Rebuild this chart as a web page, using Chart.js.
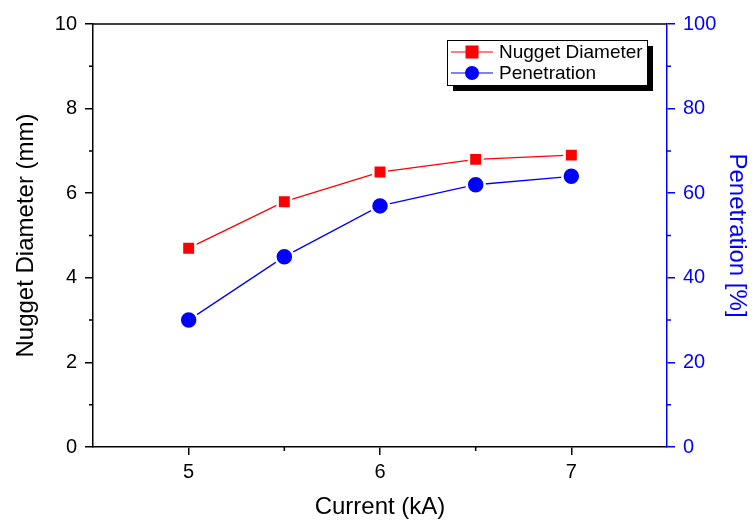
<!DOCTYPE html>
<html>
<head>
<meta charset="utf-8">
<script src="https://cdn.jsdelivr.net/npm/chart.js@4"></script>
<style>
  html, body { margin: 0; padding: 0; background: #fff; }
  #wrap { width: 755px; height: 522px; }
</style>
</head>
<body>
<div id="wrap"><canvas id="chart" width="755" height="522"></canvas></div>
<script>
// chart data
const currents = [5, 5.5, 6, 6.5, 7];
const nuggetDiameter = [4.7, 5.8, 6.5, 6.8, 6.9];
const penetration = [30, 45, 57, 62, 64];
const xTicks = [5, 6, 7];
const xMinor = [5.5, 6.5];
const leftMinor = [1, 3, 5, 7, 9];
const rightMinor = [10, 30, 50, 70, 90];

const FONT = '"Liberation Sans", Arial, sans-serif';

// minor ticks, top frame line and the boxed legend with shadow
const extras = {
  id: 'extras',
  afterDraw(chart) {
    const { ctx, chartArea: a, scales } = chart;
    ctx.save();
    ctx.lineWidth = 1.5;
    // top frame
    ctx.strokeStyle = '#000';
    ctx.beginPath();
    ctx.moveTo(a.left, a.top);
    ctx.lineTo(a.right, a.top);
    ctx.stroke();
    // minor ticks
    ctx.beginPath();
    xMinor.forEach(v => {
      const x = scales.x.getPixelForValue(v);
      ctx.moveTo(x, a.bottom);
      ctx.lineTo(x, a.bottom + 4);
    });
    leftMinor.forEach(v => {
      const y = scales.y.getPixelForValue(v);
      ctx.moveTo(a.left, y);
      ctx.lineTo(a.left - 4, y);
    });
    ctx.stroke();
    ctx.strokeStyle = '#0000ff';
    ctx.beginPath();
    rightMinor.forEach(v => {
      const y = scales.y1.getPixelForValue(v);
      ctx.moveTo(a.right, y);
      ctx.lineTo(a.right + 4, y);
    });
    ctx.stroke();

    // legend
    const lx = 447, ly = 40, lw = 200, lh = 45;
    ctx.fillStyle = '#000';
    ctx.fillRect(lx + 6, ly + 6, lw, lh);
    ctx.fillStyle = '#fff';
    ctx.fillRect(lx, ly, lw, lh);
    ctx.strokeStyle = '#000';
    ctx.lineWidth = 1;
    ctx.strokeRect(lx + 0.5, ly + 0.5, lw, lh);
    const rows = [
      { label: 'Nugget Diameter', color: '#ff0000', style: 'rect' },
      { label: 'Penetration', color: '#0000ff', style: 'circle' }
    ];
    ctx.font = '19px ' + FONT;
    ctx.textBaseline = 'middle';
    rows.forEach((r, i) => {
      const y = ly + 12 + i * 21;
      ctx.strokeStyle = r.color;
      ctx.lineWidth = 1.2;
      ctx.beginPath();
      ctx.moveTo(lx + 4, y);
      ctx.lineTo(lx + 46, y);
      ctx.stroke();
      ctx.fillStyle = r.color;
      if (r.style === 'rect') {
        ctx.fillRect(lx + 18.5, y - 6.5, 13, 13);
      } else {
        ctx.beginPath();
        ctx.arc(lx + 25, y, 7, 0, Math.PI * 2);
        ctx.fill();
      }
      ctx.fillStyle = '#000';
      ctx.fillText(r.label, lx + 52, y + 1);
    });
    ctx.restore();
  }
};

new Chart(document.getElementById('chart'), {
  type: 'line',
  data: {
    datasets: [
      {
        label: 'Nugget Diameter',
        data: currents.map((c, i) => ({ x: c, y: nuggetDiameter[i] })),
        yAxisID: 'y',
        borderColor: '#ff0000',
        backgroundColor: '#ff0000',
        borderWidth: 1.3,
        pointStyle: 'rect',
        pointRadius: 9.5,
        pointBorderWidth: 2.5,
        pointBorderColor: '#ffffff',
        tension: 0
      },
      {
        label: 'Penetration',
        data: currents.map((c, i) => ({ x: c, y: penetration[i] })),
        yAxisID: 'y1',
        borderColor: '#0000ff',
        backgroundColor: '#0000ff',
        borderWidth: 1.3,
        pointStyle: 'circle',
        pointRadius: 9,
        pointBorderWidth: 2.5,
        pointBorderColor: '#ffffff',
        tension: 0
      }
    ]
  },
  options: {
    responsive: false,
    animation: false,
    layout: { padding: { top: 24, left: 0, right: 0, bottom: 0 } },
    plugins: { legend: { display: false }, tooltip: { enabled: false } },
    scales: {
      x: {
        type: 'linear',
        min: 4.5,
        max: 7.5,
        afterBuildTicks: s => { s.ticks = xTicks.map(v => ({ value: v })); },
        afterFit: s => { s.height = 75; },
        grid: { drawOnChartArea: false, drawTicks: true, tickLength: 8, color: '#000', lineWidth: 1.5 },
        border: { color: '#000', width: 1.5 },
        ticks: { color: '#000', font: { family: FONT, size: 20 }, padding: 5, maxRotation: 0 },
        title: { display: true, text: 'Current (kA)', color: '#000', font: { family: FONT, size: 24 }, padding: { top: 3, bottom: 0 } }
      },
      y: {
        position: 'left',
        min: 0,
        max: 10,
        ticks: { stepSize: 2, color: '#000', font: { family: FONT, size: 20 }, padding: 8 },
        afterFit: s => { s.width = 93; },
        grid: { drawOnChartArea: false, drawTicks: true, tickLength: 8, color: '#000', lineWidth: 1.5 },
        border: { color: '#000', width: 1.5 },
        title: { display: true, text: 'Nugget Diameter (mm)', color: '#000', font: { family: FONT, size: 24 }, padding: { top: 12, bottom: 0 } }
      },
      y1: {
        position: 'right',
        min: 0,
        max: 100,
        ticks: { stepSize: 20, color: '#0000ff', font: { family: FONT, size: 20 }, padding: 8 },
        afterFit: s => { s.width = 88; },
        grid: { drawOnChartArea: false, drawTicks: true, tickLength: 8, color: '#0000ff', lineWidth: 1.5 },
        border: { color: '#0000ff', width: 1.5 },
        title: { display: true, text: 'Penetration [%]', color: '#0000ff', font: { family: FONT, size: 24 }, padding: { top: 4, bottom: 0 } }
      }
    }
  },
  plugins: [extras]
});
</script>
</body>
</html>
